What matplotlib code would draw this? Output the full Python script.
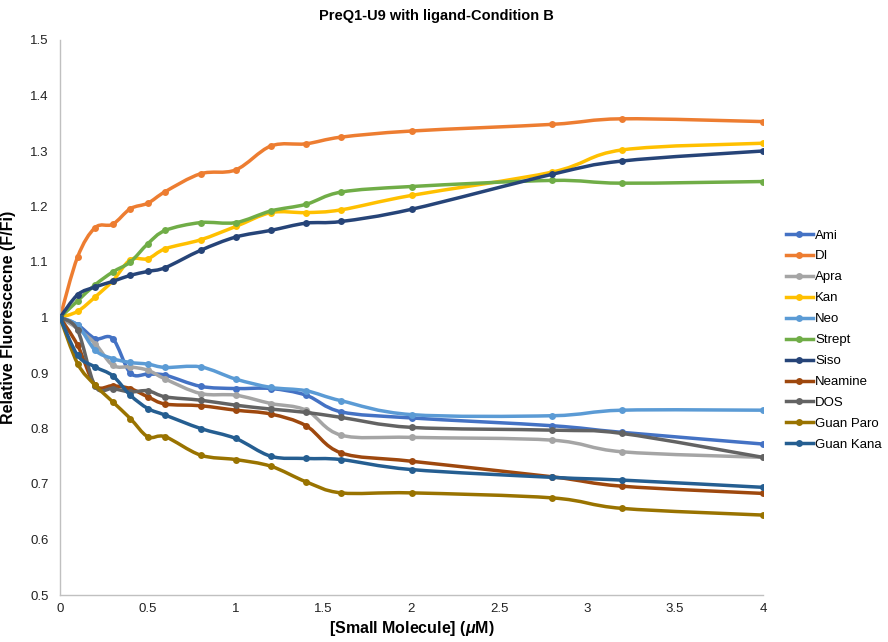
import numpy as np
import matplotlib
matplotlib.use("Agg")
import matplotlib.pyplot as plt
from matplotlib.path import Path
from matplotlib.patches import PathPatch
from matplotlib.lines import Line2D
from matplotlib.ticker import FuncFormatter, MultipleLocator

# Concentration of small molecule (uM)
conc = [0, 0.1, 0.2, 0.3, 0.4, 0.5, 0.6, 0.8, 1.0, 1.2, 1.4, 1.6, 2.0, 2.8, 3.2, 4.0]

# Relative fluorescence F/Fi for each ligand
ami = [1.0, 0.987, 0.962, 0.962, 0.900, 0.898, 0.896, 0.876, 0.872, 0.872, 0.860, 0.830, 0.819, 0.805, 0.793, 0.772]
di = [1.0, 1.109, 1.162, 1.168, 1.196, 1.206, 1.227, 1.259, 1.266, 1.309, 1.313, 1.325, 1.336, 1.348, 1.358, 1.353]
apra = [1.0, 0.980, 0.953, 0.914, 0.911, 0.905, 0.889, 0.863, 0.860, 0.845, 0.833, 0.788, 0.784, 0.779, 0.758, 0.748]
kan = [1.0, 1.011, 1.037, 1.066, 1.104, 1.106, 1.124, 1.140, 1.164, 1.189, 1.189, 1.194, 1.220, 1.262, 1.302, 1.314]
neo = [1.0, 0.986, 0.941, 0.926, 0.919, 0.916, 0.910, 0.911, 0.889, 0.874, 0.868, 0.850, 0.825, 0.823, 0.833, 0.833]
strept = [1.0, 1.030, 1.059, 1.082, 1.100, 1.133, 1.157, 1.171, 1.171, 1.192, 1.204, 1.226, 1.236, 1.247, 1.242, 1.245]
siso = [1.0, 1.041, 1.055, 1.065, 1.076, 1.083, 1.090, 1.121, 1.145, 1.157, 1.170, 1.173, 1.195, 1.258, 1.282, 1.300]
neamine = [1.0, 0.950, 0.878, 0.877, 0.872, 0.857, 0.844, 0.841, 0.833, 0.826, 0.805, 0.756, 0.741, 0.713, 0.696, 0.683]
dos = [1.0, 0.977, 0.876, 0.872, 0.866, 0.868, 0.857, 0.851, 0.842, 0.835, 0.829, 0.820, 0.802, 0.797, 0.791, 0.748]
guan_paro = [1.0, 0.917, 0.878, 0.848, 0.818, 0.785, 0.785, 0.752, 0.744, 0.732, 0.704, 0.684, 0.684, 0.675, 0.656, 0.644]
guan_kana = [1.0, 0.932, 0.911, 0.895, 0.860, 0.836, 0.824, 0.800, 0.782, 0.750, 0.746, 0.744, 0.726, 0.712, 0.707, 0.694]

names = ["Ami", "DI", "Apra", "Kan", "Neo", "Strept", "Siso", "Neamine", "DOS", "Guan Paro", "Guan Kana"]
series = [ami, di, apra, kan, neo, strept, siso, neamine, dos, guan_paro, guan_kana]
colors = ["#4472C4", "#ED7D31", "#A5A5A5", "#FFC000", "#5B9BD5", "#70AD47",
          "#264478", "#9E480E", "#636363", "#997300", "#255E91"]

narrow = ["Liberation Sans Narrow", "Liberation Sans", "DejaVu Sans"]
plt.rcParams["font.family"] = narrow
plt.rcParams["mathtext.fontset"] = "custom"
plt.rcParams["mathtext.it"] = "Liberation Sans:italic:bold"
plt.rcParams["mathtext.rm"] = "Liberation Sans:bold"
plt.rcParams["mathtext.bf"] = "Liberation Sans:bold"


def smooth_path(xs, ys):
    """Cubic Bezier path through the points (Catmull-Rom style tangents)."""
    pts = np.column_stack([xs, ys]).astype(float)
    n = len(pts)
    verts = [pts[0]]
    codes = [Path.MOVETO]
    for i in range(n - 1):
        p0 = pts[max(i - 1, 0)]
        p1 = pts[i]
        p2 = pts[i + 1]
        p3 = pts[min(i + 2, n - 1)]
        c1 = p1 + (p2 - p0) / 6.0
        c2 = p2 - (p3 - p1) / 6.0
        verts += [c1, c2, p2]
        codes += [Path.CURVE4] * 3
    return Path(verts, codes)


fig = plt.figure(figsize=(8.88, 6.42), dpi=100)
ax = fig.add_axes([60 / 888, 47 / 642, 703 / 888, 555 / 642])

lw = 2.5
ms = 5.0
for k, (ys, col) in enumerate(zip(series, colors)):
    patch = PathPatch(smooth_path(conc, ys), fill=False, edgecolor=col,
                      lw=lw, capstyle="round", joinstyle="round", zorder=2 + k * 0.1)
    ax.add_patch(patch)
    ax.plot(conc, ys, "o", color=col, ms=ms, mec="none", zorder=2.05 + k * 0.1)

ax.set_xlim(0, 4)
ax.set_ylim(0.5, 1.5)
ax.xaxis.set_major_locator(MultipleLocator(0.5))
ax.yaxis.set_major_locator(MultipleLocator(0.1))
fmt = FuncFormatter(lambda v, p: f"{round(v, 2):g}")
ax.xaxis.set_major_formatter(fmt)
ax.yaxis.set_major_formatter(fmt)
ax.tick_params(axis="both", length=0, labelsize=9.5, colors="#222222")
ax.tick_params(axis="x", pad=6)
ax.tick_params(axis="y", pad=8)

for side in ("top", "right"):
    ax.spines[side].set_visible(False)
for side in ("left", "bottom"):
    ax.spines[side].set_color("#C0C0C0")
    ax.spines[side].set_linewidth(1.0)

ax.set_xlabel(r"[Small Molecule] ($\mu$M)", fontsize=11.5, fontweight="bold", labelpad=3)
ax.set_ylabel("Relative Fluorescecne (F/Fi)", fontsize=11.5, fontweight="bold", labelpad=10)
fig.text(436 / 888, 1 - 16 / 642, "PreQ1-U9 with ligand-Condition B", ha="center", va="center",
         fontsize=10.5, fontweight="bold")

handles = [Line2D([0], [0], color=c, lw=lw, marker="o", ms=ms, mec="none") for c in colors]
leg = fig.legend(handles, names, loc="upper left", bbox_to_anchor=(781 / 888, 1 - 224 / 642),
                 frameon=False, handlelength=2.0, handletextpad=0.2, labelspacing=0.66,
                 borderaxespad=0, prop={"family": ["Liberation Sans", "DejaVu Sans"], "size": 9.5})

fig.savefig("out.png", dpi=100)
